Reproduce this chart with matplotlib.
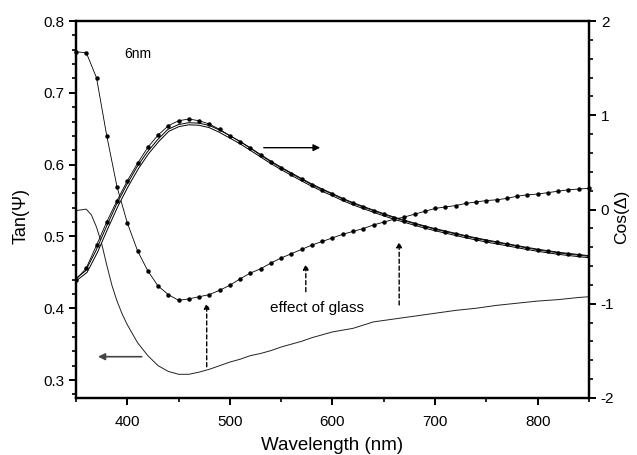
import numpy as np
import matplotlib.pyplot as plt
from matplotlib.ticker import MultipleLocator

plt.rcParams['font.family'] = ['Liberation Sans', 'DejaVu Sans']
plt.rcParams['axes.unicode_minus'] = False

# Tan(Psi), measured with glass (dotted, left axis)
wl = [350, 360, 370, 380, 390, 400, 410, 420, 430, 440, 450, 460, 470, 480, 490,
      500, 510, 520, 530, 540, 550, 560, 570, 580, 590, 600, 610, 620, 630, 640,
      650, 660, 670, 680, 690, 700, 710, 720, 730, 740, 750, 760, 770, 780, 790,
      800, 810, 820, 830, 840, 850]
tan_glass = [0.757, 0.756, 0.721, 0.640, 0.569, 0.519, 0.480, 0.452, 0.431, 0.419,
             0.411, 0.413, 0.416, 0.419, 0.425, 0.432, 0.441, 0.449, 0.455, 0.463,
             0.470, 0.476, 0.482, 0.488, 0.493, 0.498, 0.503, 0.507, 0.511, 0.516,
             0.520, 0.524, 0.527, 0.531, 0.535, 0.539, 0.541, 0.543, 0.546, 0.548,
             0.550, 0.551, 0.553, 0.556, 0.558, 0.559, 0.561, 0.563, 0.565, 0.566,
             0.567]

# Cos(Delta), measured (dotted, right axis)
cos_meas = [-0.744, -0.621, -0.38, -0.13, 0.095, 0.304, 0.49, 0.66, 0.79, 0.889,
            0.942, 0.96, 0.942, 0.907, 0.85, 0.783, 0.72, 0.649, 0.575, 0.505,
            0.44, 0.38, 0.32, 0.261, 0.21, 0.162, 0.11, 0.065, 0.025, -0.014,
            -0.052, -0.088, -0.12, -0.152, -0.182, -0.21, -0.235, -0.26, -0.285,
            -0.308, -0.33, -0.35, -0.37, -0.39, -0.41, -0.428, -0.445, -0.46,
            -0.473, -0.485, -0.497]

# Cos(Delta), fit (double line, right axis)
cos_fit = [-0.744, -0.66, -0.45, -0.2, 0.04, 0.25, 0.44, 0.6, 0.73, 0.84,
           0.89, 0.91, 0.905, 0.88, 0.83, 0.77, 0.71, 0.64, 0.57, 0.5,
           0.435, 0.375, 0.315, 0.258, 0.205, 0.157, 0.106, 0.061, 0.021, -0.018,
           -0.056, -0.092, -0.124, -0.156, -0.186, -0.214, -0.239, -0.264, -0.289,
           -0.312, -0.334, -0.354, -0.374, -0.394, -0.414, -0.432, -0.449, -0.464,
           -0.477, -0.489, -0.501]

# Tan(Psi), without glass (solid, left axis)
wl_bare = [350, 360, 365, 370, 375, 380, 385, 390, 395, 400, 410, 420, 430, 440,
           450, 460, 470, 480, 490, 500, 510, 520, 530, 540, 550, 560, 570, 580,
           590, 600, 620, 640, 660, 680, 700, 720, 740, 760, 780, 800, 820, 840, 850]
tan_bare = [0.536, 0.538, 0.53, 0.513, 0.49, 0.46, 0.432, 0.41, 0.392, 0.377,
            0.352, 0.334, 0.320, 0.312, 0.308, 0.308, 0.311, 0.315, 0.320, 0.325,
            0.329, 0.334, 0.337, 0.341, 0.346, 0.350, 0.354, 0.359, 0.363, 0.367,
            0.372, 0.381, 0.385, 0.389, 0.393, 0.397, 0.400, 0.404, 0.407, 0.410,
            0.412, 0.415, 0.416]

fig = plt.figure(figsize=(6.37, 4.55), dpi=100)
ax = fig.add_axes([0.1193, 0.1253, 0.8053, 0.8285])
ax2 = ax.twinx()

ax.plot(wl, tan_glass, color='black', lw=0.6, marker='o', ms=2.2, clip_on=False)
ax.plot(wl_bare, tan_bare, color='#222222', lw=0.7)

ax2.plot(wl, cos_fit, color='black', lw=2.2, solid_capstyle='butt')
ax2.plot(wl, cos_fit, color='white', lw=0.8, solid_capstyle='butt')
ax2.plot(wl, cos_meas, color='black', lw=0.6, marker='o', ms=2.2)

ax.set_xlim(350, 850)
ax.set_ylim(0.275, 0.8)
ax2.set_ylim(-2, 2)

ax.xaxis.set_major_locator(MultipleLocator(100))
ax.xaxis.set_minor_locator(MultipleLocator(50))
ax.yaxis.set_major_locator(MultipleLocator(0.1))
ax.yaxis.set_minor_locator(MultipleLocator(0.02))
ax2.yaxis.set_major_locator(MultipleLocator(1))
ax2.yaxis.set_minor_locator(MultipleLocator(0.2))

for a in (ax, ax2):
    for s in a.spines.values():
        s.set_linewidth(1.6)
    a.tick_params(which='major', direction='out', length=5, width=1.4, labelsize=11)
    a.tick_params(which='minor', direction='out', length=3, width=1.2)
ax.tick_params(axis='x', top=False, which='both', pad=7)

ax.set_xlabel('Wavelength (nm)', fontsize=13.5)
ax.set_ylabel('Tan(Ψ)', fontsize=13)
ax2.set_ylabel('Cos(Δ)', fontsize=12.5)
ax.xaxis.set_label_coords(0.499, -0.127)
ax.yaxis.set_label_coords(-0.107, 0.483)
ax2.yaxis.set_label_coords(1.064, 0.48)
ax.xaxis.label.set_va('center')
ax.yaxis.label.set_va('center')
ax2.yaxis.label.set_va('center')

# annotations
ax.text(397, 0.754, '6nm', fontsize=10, va='center')
ax.text(539, 0.401, 'effect of glass', fontsize=11, va='center')

ax2.annotate('', xy=(588, 0.656), xytext=(533, 0.656),
             arrowprops=dict(arrowstyle='-|>', color='black', lw=1.0,
                             mutation_scale=10, shrinkA=0, shrinkB=0))
ax.annotate('', xy=(371.5, 0.3325), xytext=(414, 0.3325),
            arrowprops=dict(arrowstyle='-|>', color='#444444', lw=1.2,
                            mutation_scale=10, shrinkA=0, shrinkB=0))
for x0, y0, y1 in [(477.4, 0.3185, 0.407), (574, 0.423, 0.4615), (665, 0.4045, 0.4926)]:
    ax.annotate('', xy=(x0, y1), xytext=(x0, y0),
                arrowprops=dict(arrowstyle='-|>', color='black', lw=1.0, ls=(0, (3, 2)),
                                mutation_scale=8, shrinkA=0, shrinkB=0))

fig.savefig('out.png', dpi=100)
